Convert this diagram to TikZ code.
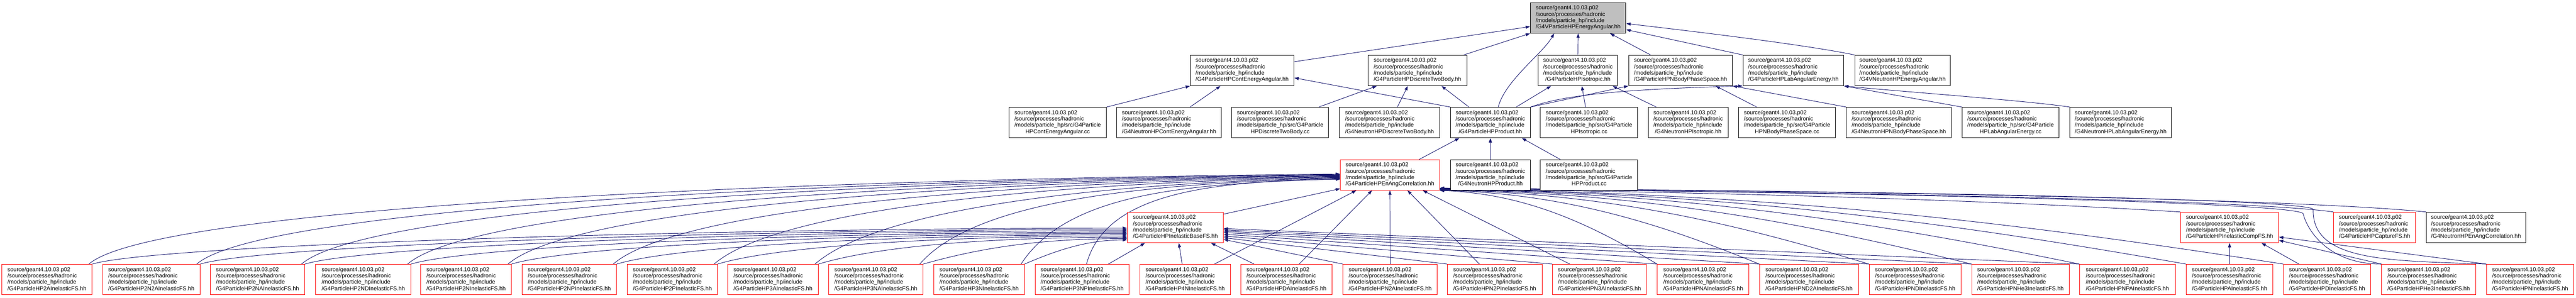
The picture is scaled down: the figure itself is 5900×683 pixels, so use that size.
\documentclass[tikz,border=0pt]{standalone}
\usepackage{fontspec}
\setmainfont{Liberation Sans}
\usetikzlibrary{arrows.meta}
\definecolor{edgeblue}{RGB}{25,25,112}
\definecolor{nodered}{RGB}{255,0,0}
\definecolor{topgray}{RGB}{191,191,191}
\pgfdeclarelayer{bg}
\pgfsetlayers{bg,main}
\newcommand{\hhlab}[1]{\begin{tabular}{@{}l@{}}source/geant4.10.03.p02\\/source/processes/hadronic\\/models/particle\_hp/include\\\multicolumn{1}{@{}c@{}}{/#1}\end{tabular}}
\newcommand{\cclab}[1]{\begin{tabular}{@{}l@{}}source/geant4.10.03.p02\\/source/processes/hadronic\\/models/particle\_hp/src/G4Particle\\\multicolumn{1}{@{}c@{}}{#1}\end{tabular}}
\begin{document}
\begin{tikzpicture}[x=1pt,y=-1pt,
  box/.style={draw=black, line width=1.2pt, minimum height=70pt, inner sep=0pt, fill=white, font=\fontsize{13}{14.6}\selectfont},
  redbox/.style={box, draw=nodered},
  edge/.style={draw=edgeblue, line width=1.1pt, -{Triangle[length=10pt,width=7pt]}}]
\useasboundingbox (0,0) rectangle (5900,683);
% row 1
\node[box, fill=topgray, minimum width=219pt] (top) at (3614.5,41) {\hhlab{G4VParticleHPEnergyAngular.hh}};
% row 2
\node[box, minimum width=238pt] (cea) at (2845,161.5) {\hhlab{G4ParticleHPContEnergyAngular.hh}};
\node[box, minimum width=227pt] (dtb) at (3246.5,161.5) {\hhlab{G4ParticleHPDiscreteTwoBody.hh}};
\node[box, minimum width=182pt] (iso) at (3614,161.5) {\hhlab{G4ParticleHPIsotropic.hh}};
\node[box, minimum width=238pt] (nbps) at (3849,161.5) {\hhlab{G4ParticleHPNBodyPhaseSpace.hh}};
\node[box, minimum width=231pt] (lae) at (4107.5,161.5) {\hhlab{G4ParticleHPLabAngularEnergy.hh}};
\node[box, minimum width=219pt] (vnea) at (4357.5,161.5) {\hhlab{G4VNeutronHPEnergyAngular.hh}};
% row 3
\node[box, minimum width=223pt] (ceacc) at (2422.5,281) {\cclab{HPContEnergyAngular.cc}};
\node[box, minimum width=239pt] (ncea) at (2677.5,281) {\hhlab{G4NeutronHPContEnergyAngular.hh}};
\node[box, minimum width=222pt] (dtbcc) at (2932,281) {\cclab{HPDiscreteTwoBody.cc}};
\node[box, minimum width=231pt] (ndtb) at (3182.5,281) {\hhlab{G4NeutronHPDiscreteTwoBody.hh}};
\node[box, minimum width=183pt] (prod) at (3413.5,281) {\hhlab{G4ParticleHPProduct.hh}};
\node[box, minimum width=223pt] (isocc) at (3639.5,281) {\cclab{HPIsotropic.cc}};
\node[box, minimum width=183pt] (niso) at (3866.5,281) {\hhlab{G4NeutronHPIsotropic.hh}};
\node[box, minimum width=222pt] (nbpscc) at (4093,281) {\cclab{HPNBodyPhaseSpace.cc}};
\node[box, minimum width=240pt] (nnbps) at (4349,281) {\hhlab{G4NeutronHPNBodyPhaseSpace.hh}};
\node[box, minimum width=222pt] (laecc) at (4605,281) {\cclab{HPLabAngularEnergy.cc}};
\node[box, minimum width=232pt] (nlae) at (4857,281) {\hhlab{G4NeutronHPLabAngularEnergy.hh}};
% row 4
\node[redbox, minimum width=227pt] (eac) at (3183.5,401) {\hhlab{G4ParticleHPEnAngCorrelation.hh}};
\node[box, minimum width=183pt] (nprod) at (3413.5,401) {\hhlab{G4NeutronHPProduct.hh}};
\node[box, minimum width=223pt] (prodcc) at (3639.5,401) {\cclab{HPProduct.cc}};
% row 5
\node[redbox, minimum width=220pt] (base) at (2692,521.5) {\hhlab{G4ParticleHPInelasticBaseFS.hh}};
\node[redbox, minimum width=225pt] (comp) at (5106.5,521.5) {\hhlab{G4ParticleHPInelasticCompFS.hh}};
\node[redbox, minimum width=187pt] (capt) at (5438.5,521.5) {\hhlab{G4ParticleHPCaptureFS.hh}};
\node[box, minimum width=228pt] (neac) at (5671,521.5) {\hhlab{G4NeutronHPEnAngCorrelation.hh}};
% row 6
\node[redbox, minimum width=207pt] (f2a) at (107.5,641) {\hhlab{G4ParticleHP2AInelasticFS.hh}};
\node[redbox, minimum width=223pt] (f2n2a) at (346.5,641) {\hhlab{G4ParticleHP2N2AInelasticFS.hh}};
\node[redbox, minimum width=216pt] (f2na) at (590,641) {\hhlab{G4ParticleHP2NAInelasticFS.hh}};
\node[redbox, minimum width=218pt] (f2nd) at (832,641) {\hhlab{G4ParticleHP2NDInelasticFS.hh}};
\node[redbox, minimum width=207pt] (f2n) at (1067.5,641) {\hhlab{G4ParticleHP2NInelasticFS.hh}};
\node[redbox, minimum width=216pt] (f2np) at (1304,641) {\hhlab{G4ParticleHP2NPInelasticFS.hh}};
\node[redbox, minimum width=206pt] (f2p) at (1540,641) {\hhlab{G4ParticleHP2PInelasticFS.hh}};
\node[redbox, minimum width=207pt] (f3a) at (1770.5,641) {\hhlab{G4ParticleHP3AInelasticFS.hh}};
\node[redbox, minimum width=216pt] (f3na) at (2006,641) {\hhlab{G4ParticleHP3NAInelasticFS.hh}};
\node[redbox, minimum width=207pt] (f3n) at (2242.5,641) {\hhlab{G4ParticleHP3NInelasticFS.hh}};
\node[redbox, minimum width=215pt] (f3np) at (2478.5,641) {\hhlab{G4ParticleHP3NPInelasticFS.hh}};
\node[redbox, minimum width=207pt] (f4n) at (2714.5,641) {\hhlab{G4ParticleHP4NInelasticFS.hh}};
\node[redbox, minimum width=209pt] (fda) at (2946.5,641) {\hhlab{G4ParticleHPDAInelasticFS.hh}};
\node[redbox, minimum width=216pt] (fn2a) at (3184,641) {\hhlab{G4ParticleHPN2AInelasticFS.hh}};
\node[redbox, minimum width=217pt] (fn2p) at (3423.5,641) {\hhlab{G4ParticleHPN2PInelasticFS.hh}};
\node[redbox, minimum width=215pt] (fn3a) at (3663.5,641) {\hhlab{G4ParticleHPN3AInelasticFS.hh}};
\node[redbox, minimum width=210pt] (fna) at (3901,641) {\hhlab{G4ParticleHPNAInelasticFS.hh}};
\node[redbox, minimum width=227pt] (fnd2a) at (4143.5,641) {\hhlab{G4ParticleHPND2AInelasticFS.hh}};
\node[redbox, minimum width=211pt] (fnd) at (4386.5,641) {\hhlab{G4ParticleHPNDInelasticFS.hh}};
\node[redbox, minimum width=223pt] (fnhe3) at (4627.5,641) {\hhlab{G4ParticleHPNHe3InelasticFS.hh}};
\node[redbox, minimum width=219pt] (fnpa) at (4872.5,641) {\hhlab{G4ParticleHPNPAInelasticFS.hh}};
\node[redbox, minimum width=199pt] (fa) at (5106.5,641) {\hhlab{G4ParticleHPAInelasticFS.hh}};
\node[redbox, minimum width=200pt] (fd) at (5330,641) {\hhlab{G4ParticleHPDInelasticFS.hh}};
\node[redbox, minimum width=215pt] (fhe3) at (5562.5,641) {\hhlab{G4ParticleHPHe3InelasticFS.hh}};
\node[redbox, minimum width=200pt] (fn) at (5795,641) {\hhlab{G4ParticleHPNInelasticFS.hh}};

\begin{pgfonlayer}{bg}
\fill[white] (0,0) rectangle (5900,683);
% row 2 -> top
\draw[edge] ([yshift=20pt]cea.east) -- ([yshift=-20pt]top.west);
\draw[edge] ([xshift=-8pt]dtb.north east) -- (top.south west);
\draw[edge] ([xshift=18pt]prod.north) .. controls +(15,-60) and +(-25,45) .. ([xshift=55pt]top.south west);
\draw[edge] (iso.north) -- (top.south);
\draw[edge] ([xshift=51pt]nbps.north west) -- ([xshift=-37pt]top.south east);
\draw[edge] (lae.north west) -- ([yshift=-27pt]top.east);
\draw[edge] (vnea.north west) .. controls +(-120,-25) and +(120,14) .. ([yshift=-13pt]top.east);
% row 3 -> row 2
\draw[edge] (ceacc.north east) -- (cea.south west);
\draw[edge] ([xshift=-72pt]ncea.north east) -- ([xshift=70pt]cea.south west);
\draw[edge] (prod.north west) -- ([yshift=-17pt]cea.east);
\draw[edge] ([xshift=-23pt]dtbcc.north east) -- ([xshift=21pt]dtb.south west);
\draw[edge] ([xshift=18pt]ndtb.north) -- ([xshift=92pt]dtb.south west);
\draw[edge] ([xshift=43pt]prod.north west) -- ([xshift=-59pt]dtb.south east);
\draw[edge] ([xshift=-33pt]prod.north east) -- ([xshift=30pt]iso.south west);
\draw[edge] ([xshift=-8pt]isocc.north) -- ([xshift=9pt]iso.south);
\draw[edge] ([xshift=19pt]niso.north west) -- ([xshift=-12pt]iso.south east);
\draw[edge] (prod.north east) -- (nbps.south west);
\draw[edge] (prod.north east) .. controls +(70,-25) and +(-300,8) .. (lae.south west);
\draw[edge] ([xshift=42pt]nbpscc.north west) -- ([xshift=-39pt]nbps.south east);
\draw[edge] (nnbps.north west) -- (nbps.south east);
\draw[edge] (laecc.north west) -- (lae.south east);
\draw[edge] (nlae.north west) .. controls +(-100,-15) and +(120,12) .. (lae.south east);
% row 4 -> prod
\draw[edge] ([xshift=-47pt]eac.north east) -- ([xshift=21pt]prod.south west);
\draw[edge] (nprod.north) -- (prod.south);
\draw[edge] ([xshift=46pt]prodcc.north west) -- ([xshift=-20pt]prod.south east);
% row 5 -> eac
\draw[edge] ([yshift=-5pt]base.north east) -- ([yshift=4pt]eac.south west);
\draw[edge] (comp.north west) .. controls +(-400,-25) and +(700,8) .. ([yshift=3.5pt]eac.south east);
\draw[edge] (capt.north west) .. controls +(-200,-28) and +(900,8) .. ([yshift=4.5pt]eac.south east);
\draw[edge] (neac.north west) .. controls +(-300,-30) and +(1000,8) .. ([yshift=5.5pt]eac.south east);
% left bottom nodes -> base
\draw[edge] (f2a.north east) .. controls +(150,-45) and +(-948,0) .. ([yshift=-1.5pt]base.west);
\draw[edge] (f2n2a.north east) .. controls +(150,-45) and +(-850,0) .. ([yshift=-4.5pt]base.west);
\draw[edge] (f2na.north east) .. controls +(150,-45) and +(-754,0) .. ([yshift=-7.5pt]base.west);
\draw[edge] (f2nd.north east) .. controls +(150,-45) and +(-656,0) .. ([yshift=-10.5pt]base.west);
\draw[edge] (f2n.north east) .. controls +(150,-45) and +(-564,0) .. ([yshift=-13.5pt]base.west);
\draw[edge] (f2np.north east) .. controls +(150,-45) and +(-468,0) .. ([yshift=-16.5pt]base.west);
\draw[edge] (f2p.north east) .. controls +(150,-45) and +(-376,0) .. ([yshift=-19.5pt]base.west);
\draw[edge] (f3a.north east) .. controls +(150,-45) and +(-283,0) .. ([yshift=-22.5pt]base.west);
\draw[edge] (f3na.north east) .. controls +(140,-40) and +(-187,0) .. ([yshift=-25.5pt]base.west);
\draw[edge] (f3n.north east) .. controls +(70,-30) and +(-94,0) .. ([yshift=-28.5pt]base.west);
% left bottom nodes -> eac
\draw[edge] ([xshift=-8pt]f2a.north east) .. controls +(150,-130) and +(-1290,12) .. ([yshift=2pt]eac.west);
\draw[edge] ([xshift=-8pt]f2n2a.north east) .. controls +(150,-130) and +(-1179,12) .. ([yshift=0.8pt]eac.west);
\draw[edge] ([xshift=-8pt]f2na.north east) .. controls +(150,-130) and +(-1071,12) .. ([yshift=-0.4pt]eac.west);
\draw[edge] ([xshift=-8pt]f2nd.north east) .. controls +(150,-130) and +(-962,12) .. ([yshift=-1.6pt]eac.west);
\draw[edge] ([xshift=-8pt]f2n.north east) .. controls +(150,-130) and +(-858,12) .. ([yshift=-2.8pt]eac.west);
\draw[edge] ([xshift=-8pt]f2np.north east) .. controls +(150,-130) and +(-750,12) .. ([yshift=-4pt]eac.west);
\draw[edge] ([xshift=-8pt]f2p.north east) .. controls +(150,-130) and +(-646,12) .. ([yshift=-5.2pt]eac.west);
\draw[edge] ([xshift=-8pt]f3a.north east) .. controls +(150,-130) and +(-542,12) .. ([yshift=-6.4pt]eac.west);
\draw[edge] ([xshift=-8pt]f3na.north east) .. controls +(130,-150) and +(-434,12) .. ([yshift=-7.6pt]eac.west);
\draw[edge] ([xshift=-8pt]f3n.north east) .. controls +(110,-170) and +(-329,12) .. ([yshift=-8.8pt]eac.west);
% middle bottom nodes
\draw[edge] ([xshift=10pt]f3np.north) .. controls +(42,-156) and +(-320,4) .. ([yshift=-10pt]eac.west);
\draw[edge] ([xshift=-48pt]f3np.north east) -- ([xshift=41pt]base.south west);
\draw[edge] ([xshift=-7pt]f4n.north) -- ([xshift=8pt]base.south);
\draw[edge] ([xshift=-37pt]f4n.north east) -- ([xshift=37pt]eac.south west);
\draw[edge] ([xshift=31pt]fda.north west) -- ([xshift=-29pt]base.south east);
\draw[edge] ([xshift=-76pt]fda.north east) -- ([xshift=73pt]eac.south west);
\draw[edge] (fn2a.north) -- (eac.south);
\draw[edge] ([xshift=74pt]fn2p.north west) -- ([xshift=-74pt]eac.south east);
\draw[edge] ([xshift=40pt]fn3a.north west) -- ([xshift=-39pt]eac.south east);
% right bottom nodes -> base
\draw[edge] (fn2a.north west) -- ([yshift=-27.5pt]base.east);
\draw[edge] (fn2p.north west) -- ([yshift=-23.5pt]base.east);
\draw[edge] (fn3a.north west) -- ([yshift=-19.5pt]base.east);
\draw[edge] (fna.north west) -- ([yshift=-15.5pt]base.east);
\draw[edge] (fnd2a.north west) -- ([yshift=-11.5pt]base.east);
\draw[edge] (fnd.north west) -- ([yshift=-8.5pt]base.east);
\draw[edge] (fnhe3.north west) -- ([yshift=-5.5pt]base.east);
\draw[edge] (fnpa.north west) -- ([yshift=-2.5pt]base.east);
% right bottom nodes -> eac
\draw[edge] (fna.north west) .. controls +(-150,-90) and +(200,8) .. (eac.south east);
\draw[edge] (fnd2a.north west) .. controls +(-220,-90) and +(293,8) .. ([yshift=0.5pt]eac.south east);
\draw[edge] (fnd.north west) .. controls +(-295,-90) and +(394,8) .. ([yshift=1pt]eac.south east);
\draw[edge] (fnhe3.north west) .. controls +(-366,-90) and +(488,8) .. ([yshift=1.5pt]eac.south east);
\draw[edge] (fnpa.north west) .. controls +(-440,-90) and +(586,8) .. ([yshift=2pt]eac.south east);
\draw[edge] (fa.north west) .. controls +(-513,-90) and +(684,8) .. ([yshift=2.5pt]eac.south east);
\draw[edge] (fd.north west) .. controls +(-580,-90) and +(773,8) .. ([yshift=3pt]eac.south east);
\draw[edge] (fhe3.north west) .. controls +(-120,0) and +(10,40) .. (5275,490) .. controls +(-8,-25) and +(1000,8) .. ([yshift=4pt]eac.south east);
\draw[edge] (fn.north west) .. controls +(-225,-8) and +(-3,120) .. (5298,480) .. controls +(-8,-22) and +(1100,6) .. ([yshift=5pt]eac.south east);
% far right bottom nodes -> comp
\draw[edge] (fa.north) -- (comp.south);
\draw[edge] ([xshift=36pt]fd.north west) -- ([xshift=-40pt]comp.south east);
\draw[edge] (fhe3.north west) -- ([yshift=6pt]comp.south east);
\draw[edge] (fn.north west) -- ([yshift=-22pt]comp.east);
\end{pgfonlayer}
\end{tikzpicture}
\end{document}
